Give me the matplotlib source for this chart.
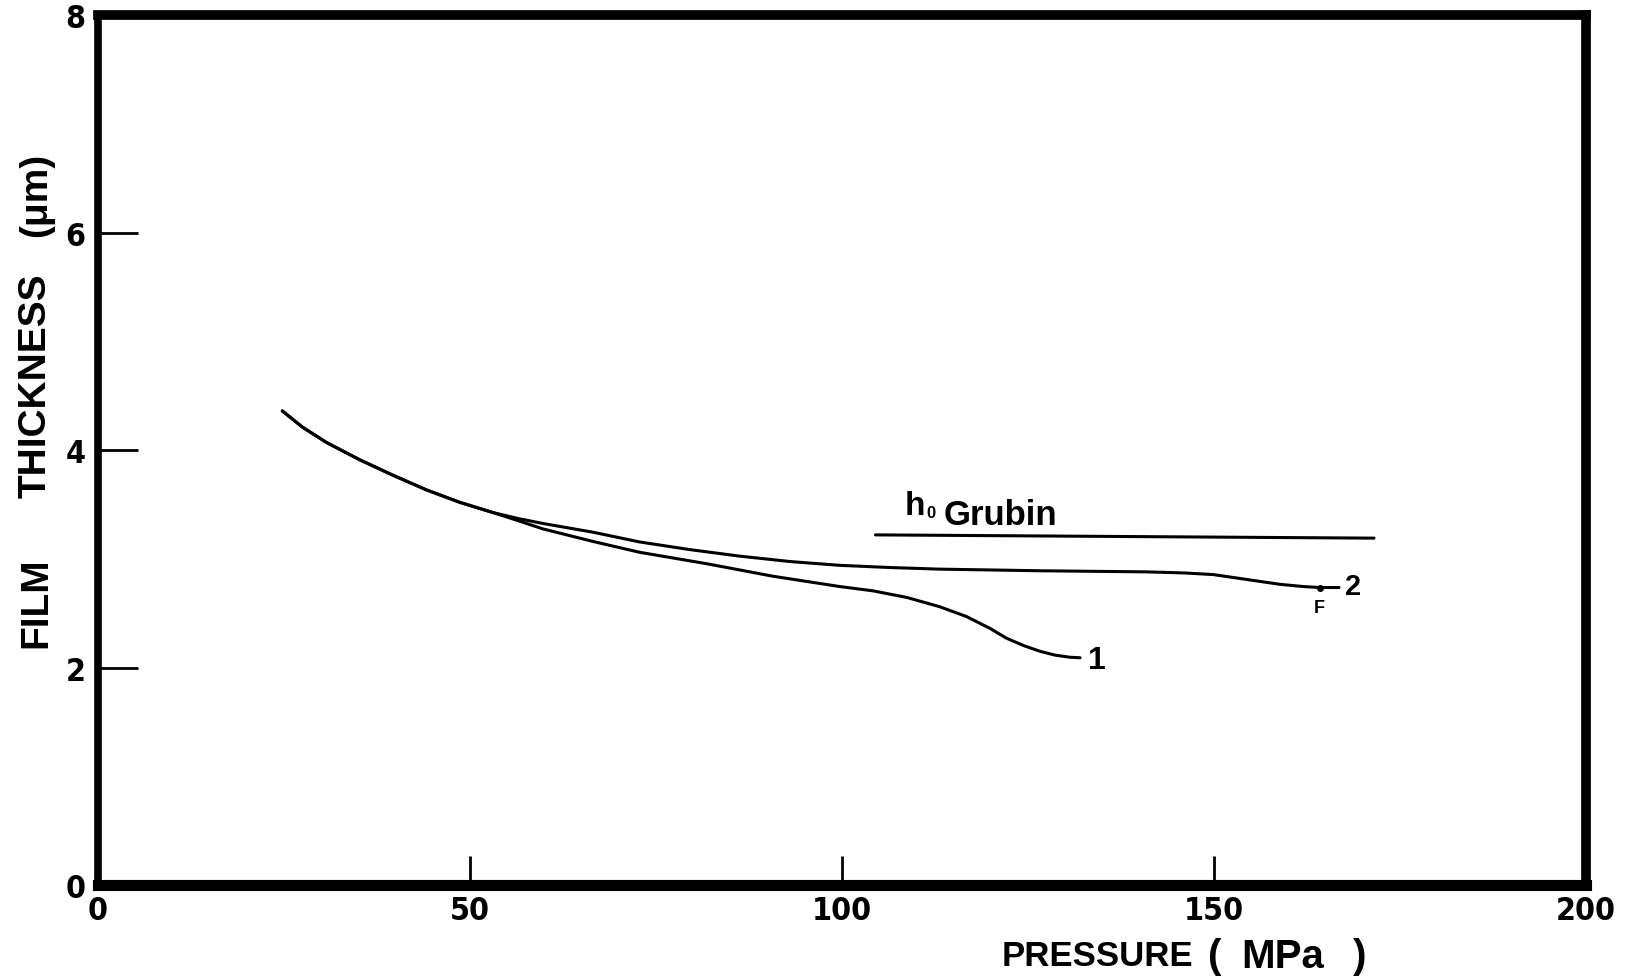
import matplotlib
matplotlib.use("Agg")
import matplotlib.pyplot as plt

# film thickness (um) against pressure (MPa); both runs share the low-pressure part
p_common = [24.77, 27.5, 30.7, 35.2, 39.6, 44.1, 48.6, 53.1]
h_common = [4.36, 4.21, 4.07, 3.91, 3.77, 3.635, 3.52, 3.425]

p_run1 = [56.5, 59.8, 66.5, 72.8, 81.8, 90.7, 99.7, 104.2, 108.7, 113.1,
          116.7, 119.9, 122.1, 124.5, 126.6, 128.6, 130.6, 132.0]
h_run1 = [3.35, 3.275, 3.16, 3.06, 2.955, 2.84, 2.745, 2.705, 2.645, 2.56,
          2.47, 2.36, 2.27, 2.20, 2.15, 2.115, 2.095, 2.09]

p_run2 = [56.5, 59.8, 66.5, 72.8, 79.5, 86.2, 93.0, 99.7, 106.4, 113.1,
          126.6, 140.9, 146.0, 149.9, 154.4, 158.9, 162.0, 164.2, 166.8]
h_run2 = [3.37, 3.325, 3.245, 3.155, 3.085, 3.025, 2.975, 2.94, 2.92, 2.905,
          2.89, 2.88, 2.87, 2.855, 2.81, 2.765, 2.745, 2.736, 2.736]

# Grubin central film thickness
p_grubin = [104.5, 171.5]
h_grubin = [3.22, 3.19]

# failure point on run 2
p_fail, h_fail = 164.2, 2.736

xticks = [0, 50, 100, 150, 200]
yticks = [0, 2, 4, 6, 8]

wide = ["Liberation Sans", "DejaVu Sans"]

fig = plt.figure(figsize=(16.25, 9.78), dpi=100)
ax = fig.add_axes([0.0603, 0.094, 0.9157, 0.8896])

line_kw = dict(color="black", lw=2.2, solid_joinstyle="round", solid_capstyle="round")
ax.plot(p_common + p_run1, h_common + h_run1, **line_kw)
ax.plot(p_common + p_run2, h_common + h_run2, **line_kw)
ax.plot(p_grubin, h_grubin, **line_kw)
ax.plot([p_fail], [h_fail], "o", color="black", ms=4)

ax.text(133.1, 2.066, "1", fontsize=23, fontweight="bold", family=wide,
        va="center", ha="left")
ax.text(167.6, 2.75, "2", fontsize=21, fontweight="bold", family=wide,
        va="center", ha="left")
ax.text(p_fail, 2.63, "F", fontsize=13, fontweight="bold", family=wide,
        va="top", ha="center")
ax.text(108.4, 3.41, "h", fontsize=24, fontweight="bold", family=wide,
        ha="left", va="baseline")
ax.text(111.4, 3.382, "0", fontsize=12, fontweight="bold", family=wide,
        ha="left", va="baseline")
ax.text(113.7, 3.319, "Grubin", fontsize=25, fontweight="bold", family=wide,
        ha="left", va="baseline")

ax.set_xlim(0, 200)
ax.set_ylim(0, 8)
ax.set_xticks(xticks)
ax.set_yticks(yticks)
ax.set_xticklabels([str(t) for t in xticks], family="DejaVu Sans",
                   fontstretch="condensed", fontweight="bold", fontsize=23)
ax.set_yticklabels([str(t) for t in yticks], family="DejaVu Sans",
                   fontstretch="condensed", fontweight="bold", fontsize=23)
ax.tick_params(axis="y", direction="in", length=29, width=2, pad=9, colors="black")
ax.tick_params(axis="x", direction="in", length=21, width=2, pad=7, colors="black")

ax.spines["top"].set_linewidth(7)
ax.spines["bottom"].set_linewidth(8)
ax.spines["right"].set_linewidth(7)
ax.spines["left"].set_linewidth(5.5)

# axis titles, piece by piece
ty = 1 - 957 / 978
fig.text(1097 / 1625, ty, "PRESSURE", fontsize=25, fontweight="bold",
         family=wide, ha="center", va="center")
fig.text(1215 / 1625, ty, "(", fontsize=29, fontweight="bold",
         family=wide, ha="center", va="center")
fig.text(1283 / 1625, ty, "MPa", fontsize=29, fontweight="bold",
         family=wide, ha="center", va="center")
fig.text(1360 / 1625, ty, ")", fontsize=29, fontweight="bold",
         family=wide, ha="center", va="center")

fig.text(36 / 1625, 1 - 603 / 978, "FILM", fontsize=28, fontweight="bold",
         family=wide, ha="center", va="center", rotation=90)
fig.text(36 / 1625, 1 - 386 / 978, "THICKNESS", fontsize=28, fontweight="bold",
         family=wide, ha="center", va="center", rotation=90)
fig.text(36 / 1625, 1 - 195 / 978, "(\u03bcm)", fontsize=28, fontweight="bold",
         family=wide, ha="center", va="center", rotation=90)

fig.savefig("out.png", dpi=100)
